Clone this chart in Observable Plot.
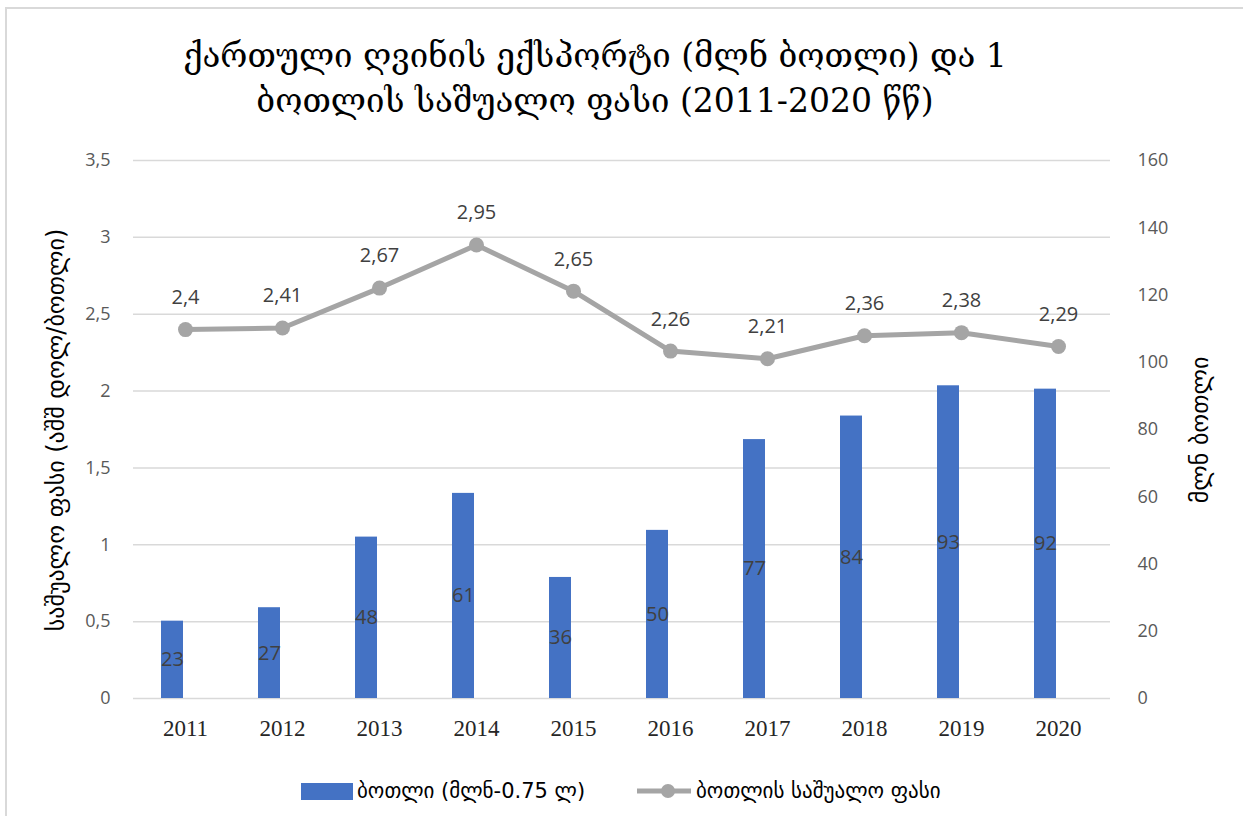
<!DOCTYPE html>
<html>
<head>
<meta charset="utf-8">
<script src="https://cdn.jsdelivr.net/npm/d3@7"></script>
<script src="https://cdn.jsdelivr.net/npm/@observablehq/plot@0.6"></script>
<style>
  html, body { margin: 0; padding: 0; background: #fff; width: 1243px; height: 816px; overflow: hidden; }
  #frame { position: absolute; left: 5px; top: 7px; width: 1270px; height: 840px; border: 2px solid #d9d9d9; box-sizing: border-box; }
  #title { position: absolute; left: 0; top: 33px; width: 1190px; text-align: center; font-family: "DejaVu Serif", "DejaVu Sans", serif; font-size: 33px; line-height: 45px; color: #000; }
  #chart { position: absolute; left: 0; top: 140px; }
  .ytitle { position: absolute; font-family: "DejaVu Sans", sans-serif; font-size: 24px; color: #000; white-space: nowrap; transform: translate(-50%, -50%) rotate(-90deg); }
  #legend { position: absolute; top: 777px; left: 0; width: 1243px; height: 28px; font-family: "DejaVu Sans", sans-serif; font-size: 21px; color: #000; }
  .li { position: absolute; top: 0; display: flex; align-items: center; height: 28px; white-space: nowrap; }
</style>
</head>
<body>
<div id="frame"></div>
<div id="title">ქართული ღვინის ექსპორტი (მლნ ბოთლი) და 1<br>ბოთლის საშუალო ფასი (2011-2020 წწ)</div>
<div id="chart"></div>
<div class="ytitle" id="ylab" style="left:56px; top:430px;">საშუალო ფასი (აშშ დოლ/ბოთლი)</div>
<div class="ytitle" id="ylab2" style="left:1200px; top:430px;">მლნ ბოთლი</div>
<div id="legend">
  <div class="li" style="left:301px;"><span style="display:inline-block;width:52px;height:17px;background:#4472C4;margin-right:4px;"></span><span id="l1"></span></div>
  <div class="li" style="left:637px;"><svg width="54" height="16" style="margin-right:5px;"><line x1="0" y1="8" x2="54" y2="8" stroke="#A5A5A5" stroke-width="5"/><circle cx="31" cy="8" r="7" fill="#A5A5A5"/></svg><span id="l2"></span></div>
</div>
<script>
const years = ["2011","2012","2013","2014","2015","2016","2017","2018","2019","2020"];
const bottles = [23, 27, 48, 61, 36, 50, 77, 84, 93, 92];
const prices = [2.4, 2.41, 2.67, 2.95, 2.65, 2.26, 2.21, 2.36, 2.38, 2.29];
const leftTicks = [0, 0.5, 1, 1.5, 2, 2.5, 3, 3.5];
const rightTicks = [0, 20, 40, 60, 80, 100, 120, 140, 160];
const seriesNames = ["ბოთლი (მლნ-0.75 ლ)", "ბოთლის საშუალო ფასი"];

document.getElementById("l1").textContent = seriesNames[0];
document.getElementById("l2").textContent = seriesNames[1];

const leftMax = 3.5, rightMax = 160;
const k = leftMax / rightMax;
const comma = v => String(v).replace(".", ",");
const data = years.map((y, i) => ({year: y, bottles: bottles[i], price: prices[i]}));

const chart = Plot.plot({
  width: 1243,
  height: 600,
  marginTop: 20,
  marginBottom: 42,
  marginLeft: 133,
  marginRight: 133,
  style: {fontFamily: "'Open Sans', sans-serif", fontSize: "18px", color: "#595959", background: "transparent"},
  x: {domain: years, paddingInner: 0.507, paddingOuter: 0.2535, axis: null, label: null},
  y: {domain: [0, leftMax], axis: null, label: null},
  marks: [
    Plot.ruleY(leftTicks, {stroke: "#d9d9d9", strokeWidth: 1.5}),
    Plot.axisY(leftTicks, {anchor: "left", label: null, tickSize: 0, tickPadding: 23, tickFormat: comma, fill: "#595959", fontSize: 18}),
    Plot.axisY(rightTicks.map(v => v * k), {anchor: "right", label: null, tickSize: 0, tickPadding: 27, tickFormat: v => Math.round(v / k), fill: "#595959", fontSize: 18}),
    Plot.axisX({label: null, tickSize: 0, tickPadding: 21, fontFamily: "'Liberation Serif', serif", fontSize: 23, fill: "#262626"}),
    Plot.barY(data, {x: "year", y: d => d.bottles * k, fill: "#4472C4", insetRight: 26}),
    Plot.text(data, {x: "year", y: d => d.bottles * k / 2, dx: -13, text: d => String(d.bottles), fill: "#404040", fontSize: 20}),
    Plot.line(data, {x: "year", y: "price", stroke: "#A5A5A5", strokeWidth: 5}),
    Plot.dot(data, {x: "year", y: "price", r: 7.5, fill: "#A5A5A5", stroke: "none"}),
    Plot.text(data, {x: "year", y: "price", dy: -32, text: d => comma(d.price), fill: "#404040", fontSize: 20})
  ]
});
document.getElementById("chart").appendChild(chart);
</script>
</body>
</html>
